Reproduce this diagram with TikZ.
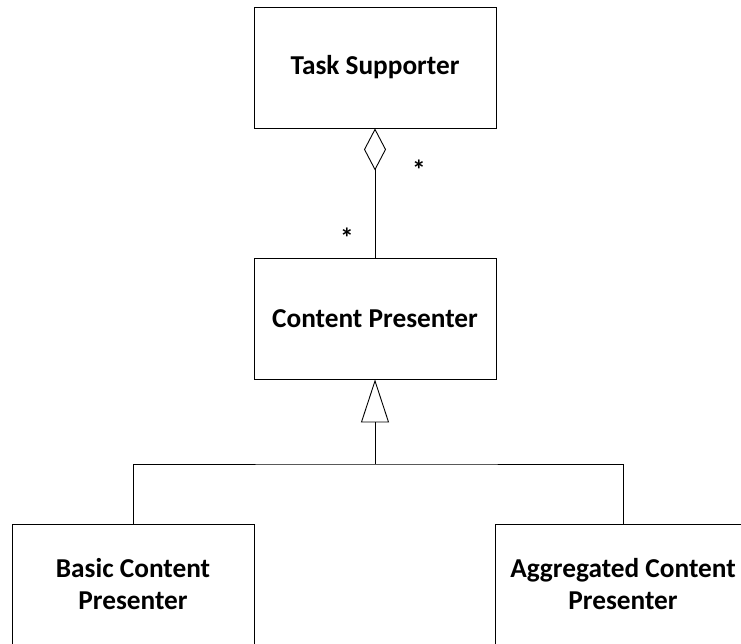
\documentclass[tikz,border=0pt]{standalone}
\usepackage{fontspec}
\setmainfont{Carlito}
\usetikzlibrary{arrows.meta}
\begin{document}
\begin{tikzpicture}[x=1pt,y=-1pt,
  umlclass/.style={draw, line width=0.9pt, minimum height=121pt, inner sep=0pt,
    font=\fontsize{27.3}{32}\selectfont\bfseries, align=center},
  conn/.style={line width=0.9pt},
  mult/.style={inner sep=0pt, font=\fontsize{27.3}{32}\selectfont\bfseries}
]
\useasboundingbox (0,0) rectangle (741,643);
\node[umlclass, minimum width=242pt] (ts) at (375,67.5) {Task Supporter};
\node[umlclass, minimum width=242pt] (cp) at (375,318.5) {Content Presenter};
\node[umlclass, minimum width=242pt] (bcp) at (133,584.5) {Basic Content\\Presenter};
\node[umlclass, minimum width=256pt] (acp) at (623,584.5) {Aggregated Content\\Presenter};
\coordinate (hub) at (375,464);
\draw[conn, {Diamond[open, length=42pt, width=22pt, line width=0.9pt]}-] (ts.south) -- (cp.north);
\draw[conn] (bcp.north) |- (hub) -| (acp.north);
\draw[conn, -{Triangle[open, length=43pt, width=28pt, line width=0.9pt]}] (hub) -- (cp.south);
\node[mult] (m1) at (419,170) {*};
\node[mult] (m2) at (347,238) {*};
\end{tikzpicture}
\end{document}
